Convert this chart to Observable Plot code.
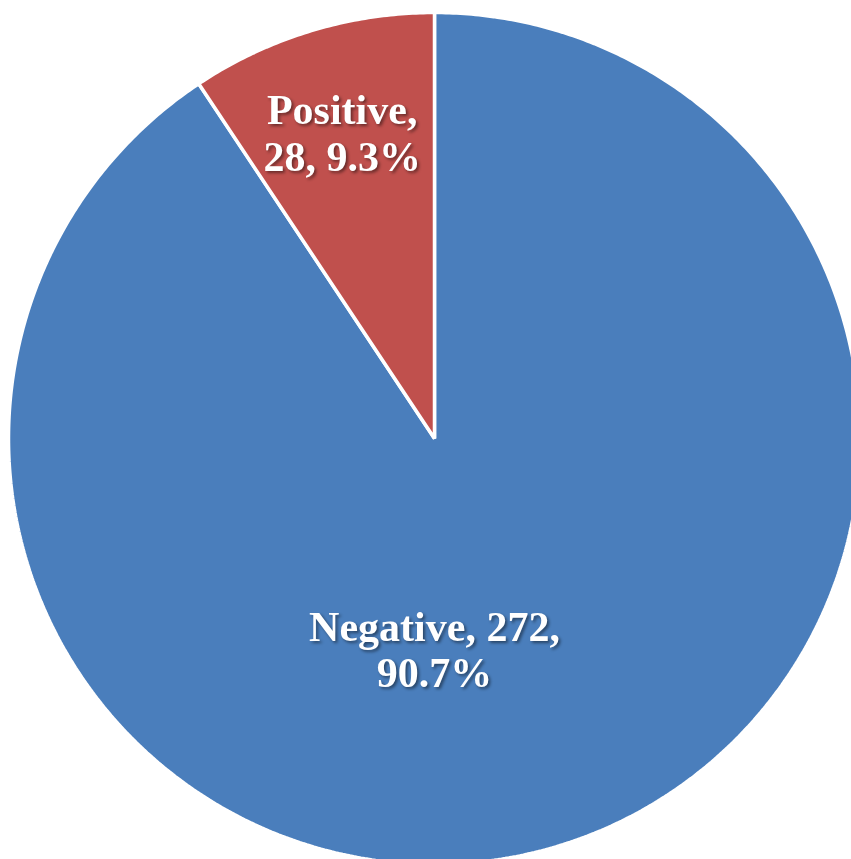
<!DOCTYPE html>
<html>
<head>
<meta charset="utf-8">
<script src="https://cdn.jsdelivr.net/npm/d3@7"></script>
<script src="https://cdn.jsdelivr.net/npm/@observablehq/plot@0.6"></script>
<style>
  html, body { margin: 0; padding: 0; background: #fff; overflow: hidden; }
</style>
</head>
<body>
<div id="chart"></div>
<script>
// Data (slice order as drawn: clockwise from 12 o'clock)
const categories = ["Negative", "Positive"];
const counts = [272, 28];
const percentLabels = ["90.7%", "9.3%"];
const labelTexts = ["Negative, 272,\n90.7%", "Positive,\n28, 9.3%"];
const colors = ["#4a7ebc", "#c0504d"];

const pie = d3.pie().sort(null).value(i => counts[i])(d3.range(categories.length));

// Polygon vertices for each slice in unit-circle coordinates (y up)
const slicePoints = [];
pie.forEach(p => {
  const name = categories[p.data];
  slicePoints.push({name, x: 0, y: 0});
  const steps = Math.max(2, Math.ceil((p.endAngle - p.startAngle) / (Math.PI / 360)));
  for (let k = 0; k <= steps; k++) {
    const a = p.startAngle + (p.endAngle - p.startAngle) * k / steps;
    slicePoints.push({name, x: Math.sin(a), y: Math.cos(a)});
  }
});

// Label placement (radius fraction; Excel-like)
const labelPlace = {Negative: {r: 0.494, angle: Math.PI}, Positive: {r: 0.75, angle: null}};
const labels = pie.map(p => {
  const name = categories[p.data];
  const pl = labelPlace[name];
  const a = pl.angle ?? (p.startAngle + p.endAngle) / 2;
  return {name, text: labelTexts[p.data], x: pl.r * Math.sin(a), y: pl.r * Math.cos(a)};
});

const chart = Plot.plot({
  width: 851,
  height: 859,
  margin: 0,
  x: {domain: [-1, 1], range: [8, 860], axis: null},
  y: {domain: [-1, 1], range: [864, 12], axis: null},
  color: {domain: categories, range: colors},
  marks: [
    Plot.line(slicePoints, {
      x: "x", y: "y", z: "name", fill: "name", stroke: "white",
      strokeWidth: 3.5, strokeLinejoin: "miter", curve: "linear-closed"
    }),
    Plot.text(labels, {
      x: "x", y: "y", text: "text", fill: "white",
      fontFamily: "'Liberation Serif', 'Times New Roman', serif",
      fontWeight: "bold", fontSize: 42, lineHeight: 1.1, textAnchor: "middle"
    })
  ]
});
d3.select(chart).selectAll("g[aria-label='text'] text")
  .style("filter", "drop-shadow(2px 2px 1.5px rgba(0,0,0,0.45))");
document.getElementById("chart").appendChild(chart);
</script>
</body>
</html>
